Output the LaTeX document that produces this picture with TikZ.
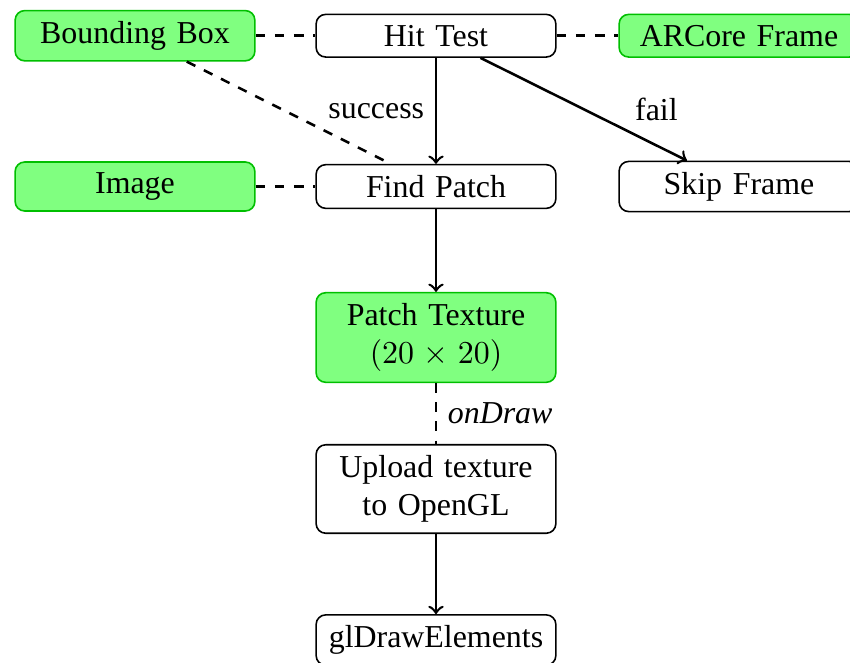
\documentclass[tikz,border=0pt]{standalone}
\usepackage[no-math]{fontspec}
\setmainfont{Liberation Serif}
\begin{document}
\begin{tikzpicture}[x=0.3135pt,y=-0.3135pt,
  box/.style={draw, line width=0.5pt, rounded corners=3pt, text width=68.5pt, align=center, inner sep=3.33pt, fill=white},
  gbox/.style={box, fill=green!50, draw=green!75!black},
  link/.style={thick, dashed},
  flow/.style={thick, ->}]
\useasboundingbox (0,0) rectangle (850,662);
\clip (0,0) rectangle (850,662);
\node[gbox] (bb) at (135,35.7) {Bounding Box};
\node[box] (ht) at (436,35.7) {Hit Test};
\node[gbox] (ar) at (739,35.7) {ARCore Frame};
\node[gbox] (img) at (135,186.5) {Image};
\node[box] (fp) at (436,186.5) {Find Patch};
\node[box] (sf) at (739,186.5) {Skip Frame};
\node[gbox] (pt) at (436,337.5) {Patch Texture\\$(20\times20)$};
\node[box] (up) at (436,489) {Upload texture\\to OpenGL};
\node[box] (gl) at (436,640) {glDrawElements};
\draw[link] (bb) -- (ht);
\draw[link] (ht) -- (ar);
\draw[link] (img) -- (fp);
\draw[link] (bb) -- (fp);
\draw[flow] (ht) -- node[left] {success} (fp);
\draw[flow] (ht) -- node[right, xshift=12.4pt] {fail} (sf);
\draw[flow] (fp) -- (pt);
\draw[link] (pt) -- node[right] {\textit{onDraw}} (up);
\draw[flow] (up) -- (gl);
\end{tikzpicture}
\end{document}
